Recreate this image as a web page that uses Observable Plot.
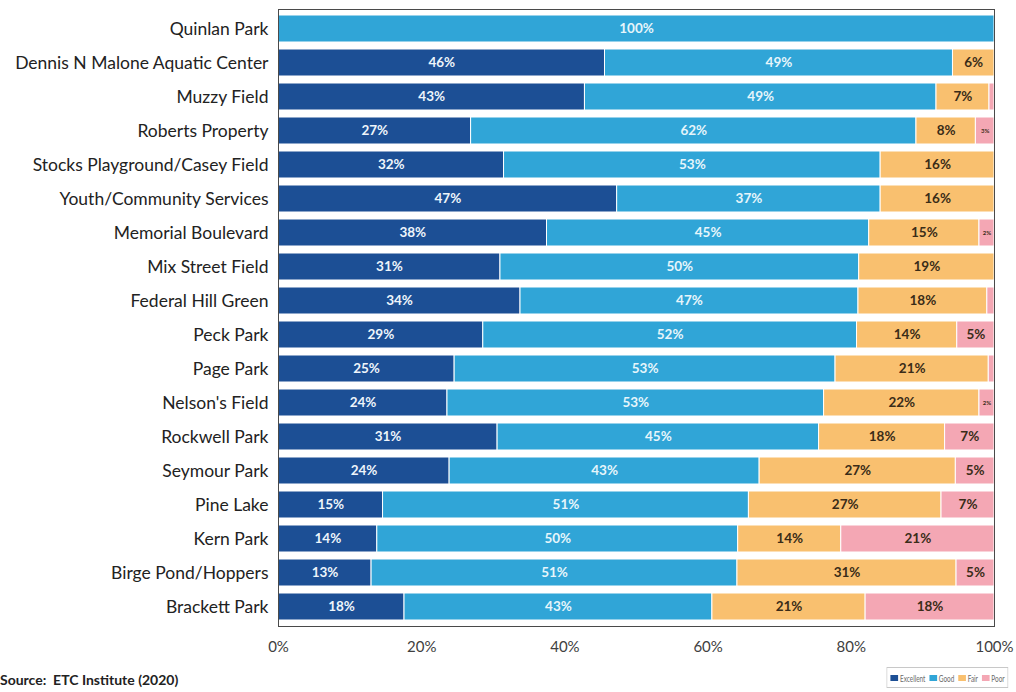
<!DOCTYPE html>
<html>
<head>
<meta charset="utf-8">
<script src="https://cdn.jsdelivr.net/npm/d3@7"></script>
<script src="https://cdn.jsdelivr.net/npm/@observablehq/plot@0.6"></script>
<style>
  html, body { margin: 0; padding: 0; background: #fff; }
  #wrap { position: relative; width: 1016px; height: 692px; overflow: hidden; font-family: Lato, "Open Sans", sans-serif; }
  #caption { position: relative; width: 1016px; height: 27px; }
  #source { position: absolute; left: 0px; top: 6px; font-size: 14px; font-weight: 700; color: #222; white-space: nowrap; }
  #legend { position: absolute; right: 8px; top: 2px; height: 21px; border: 1px solid #c8c8c8; box-sizing: border-box;
            display: flex; align-items: center; gap: 6px; padding: 0 5px;
            font-family: Lato, sans-serif; font-size: 10px; color: #6a6a6a;
            transform: scaleX(0.64); transform-origin: right center; }
  #legend span.sw { display: inline-block; width: 12px; height: 6px; margin-right: 3px; vertical-align: middle; }
  #legend .it { white-space: nowrap; display: inline-flex; align-items: center; }
</style>
</head>
<body>
<div id="wrap">
  <div id="chart"></div>
  <div id="caption">
    <div id="source">Source:&nbsp; ETC Institute (2020)</div>
    <div id="legend"></div>
  </div>
</div>
<script>
// Categories (top to bottom)
const parks = [
  "Quinlan Park",
  "Dennis N Malone Aquatic Center",
  "Muzzy Field",
  "Roberts Property",
  "Stocks Playground/Casey Field",
  "Youth/Community Services",
  "Memorial Boulevard",
  "Mix Street Field",
  "Federal Hill Green",
  "Peck Park",
  "Page Park",
  "Nelson's Field",
  "Rockwell Park",
  "Seymour Park",
  "Pine Lake",
  "Kern Park",
  "Birge Pond/Hoppers",
  "Brackett Park"
];

// Series (percent of respondents)
const ratings = ["Excellent", "Good", "Fair", "Poor"];
const excellent = [0, 45.6, 42.8, 26.9, 31.5, 47.3, 37.5, 31.0, 33.8, 28.6, 24.6, 23.6, 30.6, 23.9, 14.6, 13.8, 13.0, 17.6];
const good      = [100, 48.6, 49.1, 62.2, 52.6, 36.8, 45.0, 50.1, 47.2, 52.2, 53.2, 52.6, 44.9, 43.3, 51.1, 50.4, 51.1, 43.0];
const fair      = [0, 5.8, 7.4, 8.3, 15.9, 15.9, 15.4, 18.9, 18.0, 14.0, 21.4, 21.7, 17.6, 27.4, 26.9, 14.4, 30.6, 21.4];
const poor      = [0, 0, 0.7, 2.6, 0, 0, 2.1, 0, 1.0, 5.2, 0.8, 2.1, 6.9, 5.4, 7.4, 21.4, 5.3, 18.0];

const colors = ["#1c4f95", "#30a5d7", "#f9c06f", "#f4a7b4"];
const labelColors = ["#eef5fb", "#e6f5fb", "#3a2c18", "#3a2c18"];
const xTicks = [0, 20, 40, 60, 80, 100];

const series = [excellent, good, fair, poor];
const rows = [];
parks.forEach((p, i) => {
  ratings.forEach((r, j) => {
    rows.push({park: p, rating: r, value: series[j][i], ri: j});
  });
});

const labelText = d => d.value < 1.5 ? "" : Math.round(d.value) + "%";
const labelSize = d => d.value < 3.5 ? 6 : 13.5;

const chart = Plot.plot({
  width: 1016,
  height: 665,
  marginLeft: 278,
  marginRight: 22,
  marginTop: 9,
  marginBottom: 39,
  style: {fontFamily: "Lato, 'Open Sans', sans-serif", background: "#fff"},
  x: {domain: [0, 100], label: null},
  y: {domain: parks, paddingInner: 0.2, paddingOuter: 0.1, label: null},
  color: {domain: ratings, range: colors},
  marks: [
    Plot.barX(rows, Plot.stackX({x: "value", y: "park", fill: "rating", z: "rating", stroke: "white", strokeWidth: 1})),
    Plot.text(rows, Plot.stackX({
      x: "value", y: "park", z: "rating",
      text: labelText,
      fontSize: labelSize,
      fill: d => labelColors[d.ri],
      fontWeight: "bold"
    })),
    Plot.frame({stroke: "#4a4a4a", strokeWidth: 1}),
    Plot.axisX({ticks: xTicks, tickFormat: d => d + "%", tickSize: 0, tickPadding: 15, fontSize: 15, color: "#404040", label: null}),
    Plot.axisY({tickSize: 0, tickPadding: 10, fontSize: 17.5, color: "#222", label: null})
  ]
});
document.getElementById("chart").appendChild(chart);

const legend = document.getElementById("legend");
ratings.forEach((r, j) => {
  const it = document.createElement("span");
  it.className = "it";
  const sw = document.createElement("span");
  sw.className = "sw";
  sw.style.background = colors[j];
  it.appendChild(sw);
  it.appendChild(document.createTextNode(r));
  legend.appendChild(it);
});
</script>
</body>
</html>
